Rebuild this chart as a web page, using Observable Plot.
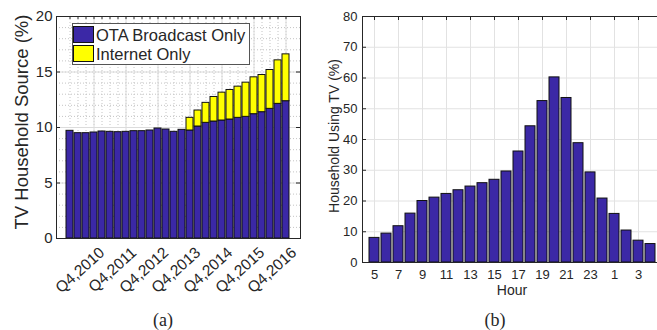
<!DOCTYPE html>
<html><head><meta charset="utf-8">
<script src="https://cdn.jsdelivr.net/npm/d3@7"></script>
<script src="https://cdn.jsdelivr.net/npm/@observablehq/plot@0.6"></script>
<style>
html,body{margin:0;padding:0;overflow:hidden;background:#fff;}
#root{position:relative;width:657px;height:330px;overflow:hidden;font-family:"Liberation Sans",Arial,sans-serif;color:#262626;}
.abs{position:absolute;white-space:nowrap;}
</style></head><body><div id="root"></div>
<script>
// ---- data: panel (a)
const quarters = ["Q1,2010","Q2,2010","Q3,2010","Q4,2010","Q1,2011","Q2,2011","Q3,2011","Q4,2011",
  "Q1,2012","Q2,2012","Q3,2012","Q4,2012","Q1,2013","Q2,2013","Q3,2013","Q4,2013",
  "Q1,2014","Q2,2014","Q3,2014","Q4,2014","Q1,2015","Q2,2015","Q3,2015","Q4,2015",
  "Q1,2016","Q2,2016","Q3,2016","Q4,2016"];
const otaOnly = [9.70,9.49,9.49,9.55,9.64,9.61,9.58,9.61,9.67,9.67,9.73,9.91,9.82,9.61,9.79,9.73,
  10.09,10.42,10.54,10.63,10.72,10.87,10.96,11.20,11.38,11.68,12.13,12.37];
const internetOnly = [0,0,0,0,0,0,0,0,0,0,0,0,0,0,0,1.14,1.44,1.80,2.21,2.51,2.66,2.81,3.08,3.32,3.35,3.50,3.92,4.22];
const quarterTicks = ["Q4,2010","Q4,2011","Q4,2012","Q4,2013","Q4,2014","Q4,2015","Q4,2016"];
const seriesNames = ["OTA Broadcast Only","Internet Only"];
// ---- data: panel (b)
const hours = [5,6,7,8,9,10,11,12,13,14,15,16,17,18,19,20,21,22,23,0,1,2,3,4];
const usingTV = [8.0,9.4,11.8,15.9,20.0,21.1,22.3,23.5,24.7,25.8,26.9,29.6,36.1,44.3,52.5,60.2,53.5,38.8,29.3,20.8,15.8,10.4,7.1,6.0];
const hourTicks = [5,7,9,11,13,15,17,19,21,23,1,3];

const BLUE = "#3b28a6", YELLOW = "#ffff00", AX = "#262626";
const root = document.getElementById("root");
function place(el, left, top){ el.style.position="absolute"; el.style.left=left+"px"; el.style.top=top+"px"; root.appendChild(el); return el; }
function label(text, x, y, opts={}){
  const d = document.createElement("div"); d.className="abs"; d.textContent=text;
  d.style.fontSize=(opts.size||14)+"px"; if(opts.font) d.style.fontFamily=opts.font;
  d.style.left=x+"px"; d.style.top=y+"px";
  d.style.transform=`translate(-50%,-50%)${opts.rot?` rotate(${opts.rot}deg)`:""}`;
  d.style.lineHeight="1"; root.appendChild(d); return d;
}

// ---- panel (a)
const rowsA = quarters.flatMap((q,i)=>[{q,type:seriesNames[0],v:otaOnly[i]},{q,type:seriesNames[1],v:internetOnly[i]}]);
const aW=310,aH=300,aML=56,aMR=10,aMT=16,aMB=62;
const pwA=aW-aML-aMR, phA=aH-aMT-aMB;
const plotA = Plot.plot({
  width:aW,height:aH,marginLeft:aML,marginRight:aMR,marginTop:aMT,marginBottom:aMB,
  style:{fontFamily:"Liberation Sans, Arial, sans-serif",color:AX,background:"transparent",overflow:"visible"},
  x:{type:"band",domain:quarters,padding:0.08,label:null,axis:null},
  y:{domain:[0,20],label:null},
  color:{domain:seriesNames,range:[BLUE,YELLOW]},
  marks:[
    Plot.gridY(d3.range(1,20),{stroke:"#c4c4c4",strokeOpacity:1,strokeDasharray:"1,2"}),
    Plot.gridX(quarters,{stroke:"#c4c4c4",strokeOpacity:1,strokeDasharray:"1,2"}),
    Plot.gridY([5,10,15],{stroke:"#dcdcdc",strokeOpacity:1}),
    Plot.gridX(quarterTicks,{stroke:"#dcdcdc",strokeOpacity:1}),
    Plot.barY(rowsA,{x:"q",y:"v",fill:"type",stroke:"#111",strokeWidth:1}),
    Plot.ruleY([5,10,15],{stroke:AX,insetRight:pwA-4}),
    Plot.ruleY([5,10,15],{stroke:AX,insetLeft:pwA-4}),
    Plot.ruleX(quarters,{stroke:AX,insetBottom:phA-3}),
    Plot.axisY({ticks:[0,5,10,15,20],tickSize:0,tickPadding:4,fontSize:15,label:null}),
    Plot.frame({stroke:AX})
  ]
});
place(plotA,0,0);

// rotated x tick labels for (a), positioned with Plot's x/y scales
const sxA = plotA.scale("x"), syA = plotA.scale("y");
quarterTicks.forEach(q=>{
  const ax = sxA.apply(q) + sxA.bandwidth/2 + 8;
  const ay = syA.apply(0) + 12;
  const d = document.createElement("div"); d.className="abs"; d.textContent=q;
  Object.assign(d.style,{fontSize:"15.5px",lineHeight:"1",transformOrigin:"100% 50%",
    transform:"translate(-100%,-50%) rotate(-42deg)",color:AX});
  place(d,ax,ay);
});

// legend (a)
const lg = document.createElement("div");
Object.assign(lg.style,{width:"178px",height:"42px",border:"1px solid #555",background:"#fff",boxSizing:"border-box"});
place(lg,72,23);
seriesNames.forEach((n,i)=>{
  const sw=document.createElement("div");
  Object.assign(sw.style,{width:"21px",height:"17px",background:[BLUE,YELLOW][i],border:"1px solid #111",boxSizing:"border-box"});
  place(sw,73,26+i*19);
  const t=document.createElement("div"); t.className="abs"; t.textContent=n;
  Object.assign(t.style,{fontSize:"16.5px",lineHeight:"1"});
  place(t,96,27+i*18.5);
});

// ---- panel (b)
const bW=332,bH=290,bML=32,bMR=0,bMT=16,bMB=28;
const pwB=bW-bML-bMR, phB=bH-bMT-bMB;
const plotB = Plot.plot({
  width:bW,height:bH,marginLeft:bML,marginRight:bMR,marginTop:bMT,marginBottom:bMB,
  style:{fontFamily:"Liberation Sans, Arial, sans-serif",color:AX,background:"transparent",overflow:"visible"},
  x:{type:"band",domain:hours,padding:0.2,label:null},
  y:{domain:[0,80],label:null},
  marks:[
    Plot.gridY(d3.range(10,80,10),{stroke:"#e2e2e2",strokeOpacity:1}),
    Plot.gridX(hourTicks,{stroke:"#e2e2e2",strokeOpacity:1}),
    Plot.barY(hours.map((h,i)=>({h,v:usingTV[i]})),{x:"h",y:"v",fill:BLUE,stroke:"#111",strokeWidth:1}),
    Plot.ruleY(d3.range(10,80,10),{stroke:AX,insetRight:pwB-4}),
    Plot.ruleX(hourTicks,{stroke:AX,insetBottom:phB-4}),
    Plot.axisY({ticks:d3.range(0,81,10),tickSize:0,tickPadding:5,fontSize:13,label:null}),
    Plot.axisX({ticks:hourTicks,tickSize:0,tickPadding:7,fontSize:13,label:null}),
    Plot.frame({stroke:AX})
  ]
});
place(plotB,330,0);

// ---- texts
label("TV Household Source (%)",22,122,{size:18.5,rot:-90});
label("Household Using TV (%)",334,136,{size:14,rot:-90});
label("Hour",512,290,{size:14});
label("(a)",163,320,{size:18,font:"Liberation Serif, Times New Roman, serif"});
label("(b)",495,320,{size:18,font:"Liberation Serif, Times New Roman, serif"});
</script></body></html>
